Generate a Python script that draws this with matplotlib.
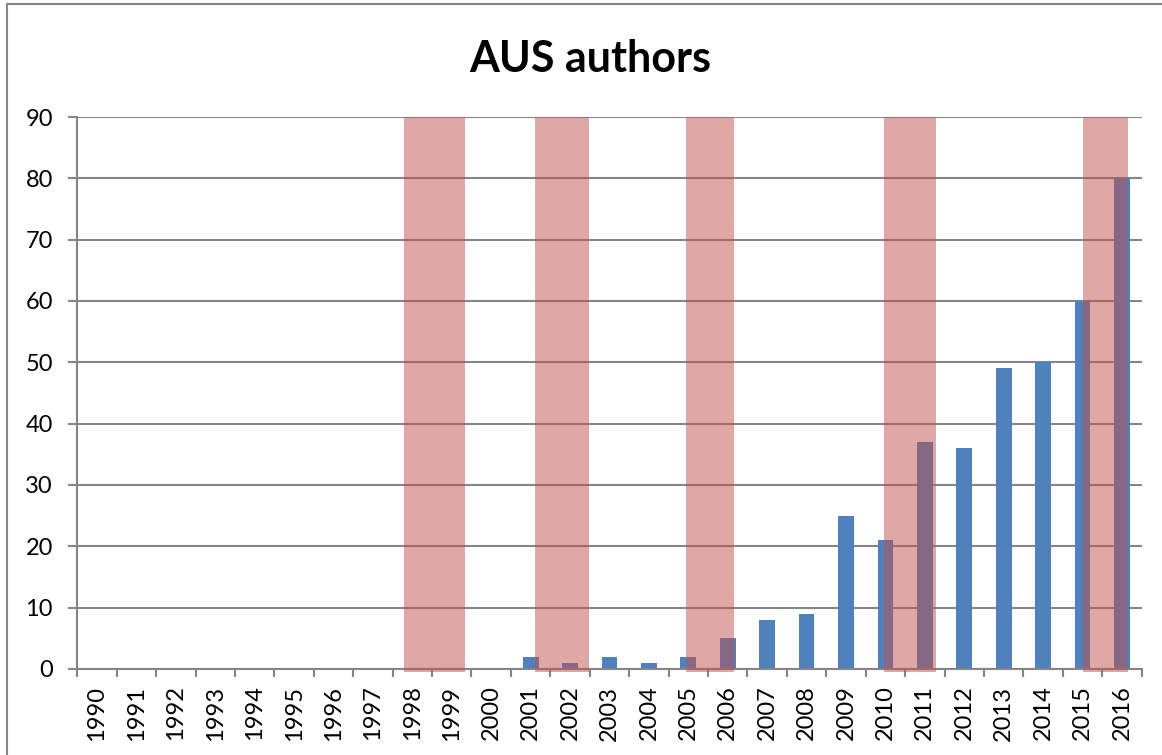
import matplotlib.pyplot as plt
import numpy as np
from matplotlib.patches import Rectangle

years = list(range(1990, 2017))
authors = [0, 0, 0, 0, 0, 0, 0, 0, 0, 0, 0,
           2, 1, 2, 1, 2, 5, 8, 9, 25, 21, 37, 36, 49, 50, 60, 80]

# shaded periods (in year units, category centre = year)
span_start = [1997.79, 2001.12, 2004.95, 2009.96, 2015.0]
span_end = [1999.34, 2002.49, 2006.15, 2011.29, 2016.16]

plt.rcParams['font.family'] = ['Lato', 'DejaVu Sans']

fig = plt.figure(figsize=(11.62, 7.55), dpi=100)
ax = fig.add_axes([0.0665, 0.114, 0.916, 0.731])

x = np.arange(len(years))
ax.bar(x, authors, width=0.4, color='#4F81BD', zorder=2)

for s, e in zip(span_start, span_end):
    ax.bar((s + e) / 2 - 1990, 90.5, bottom=-0.5, width=e - s,
           color='#C0504D', alpha=0.5, zorder=3, clip_on=False)

ax.set_xlim(-0.5, len(years) - 0.5)
ax.set_ylim(0, 90)
ax.set_yticks(range(0, 91, 10))
ax.set_xticks(x)
ax.set_xticklabels([str(y) for y in years], rotation=90, fontsize=17)
ax.set_xticks(np.arange(-0.5, len(years), 1), minor=True)
ax.tick_params(axis='x', which='major', length=0, pad=12)
ax.tick_params(axis='x', which='minor', length=6, width=1.5, color='#868686')
ax.tick_params(axis='y', length=6.5, width=1.5, color='#868686', labelsize=17, pad=11)

ax.grid(axis='y', color='#868686', linewidth=1.5, zorder=1)
ax.set_axisbelow(True)
for side in ['top', 'right']:
    ax.spines[side].set_visible(False)
for side in ['left', 'bottom']:
    ax.spines[side].set_color('#868686')
    ax.spines[side].set_linewidth(1.5)

fig.text(0.508, 0.922, 'AUS authors', ha='center', va='center',
         fontsize=31, fontweight='bold')

fig.patches.append(Rectangle((0.006, -0.01), 1.0, 1.005, transform=fig.transFigure,
                             fill=False, edgecolor='#868686', linewidth=1.5))

fig.savefig('out.png', dpi=100)
